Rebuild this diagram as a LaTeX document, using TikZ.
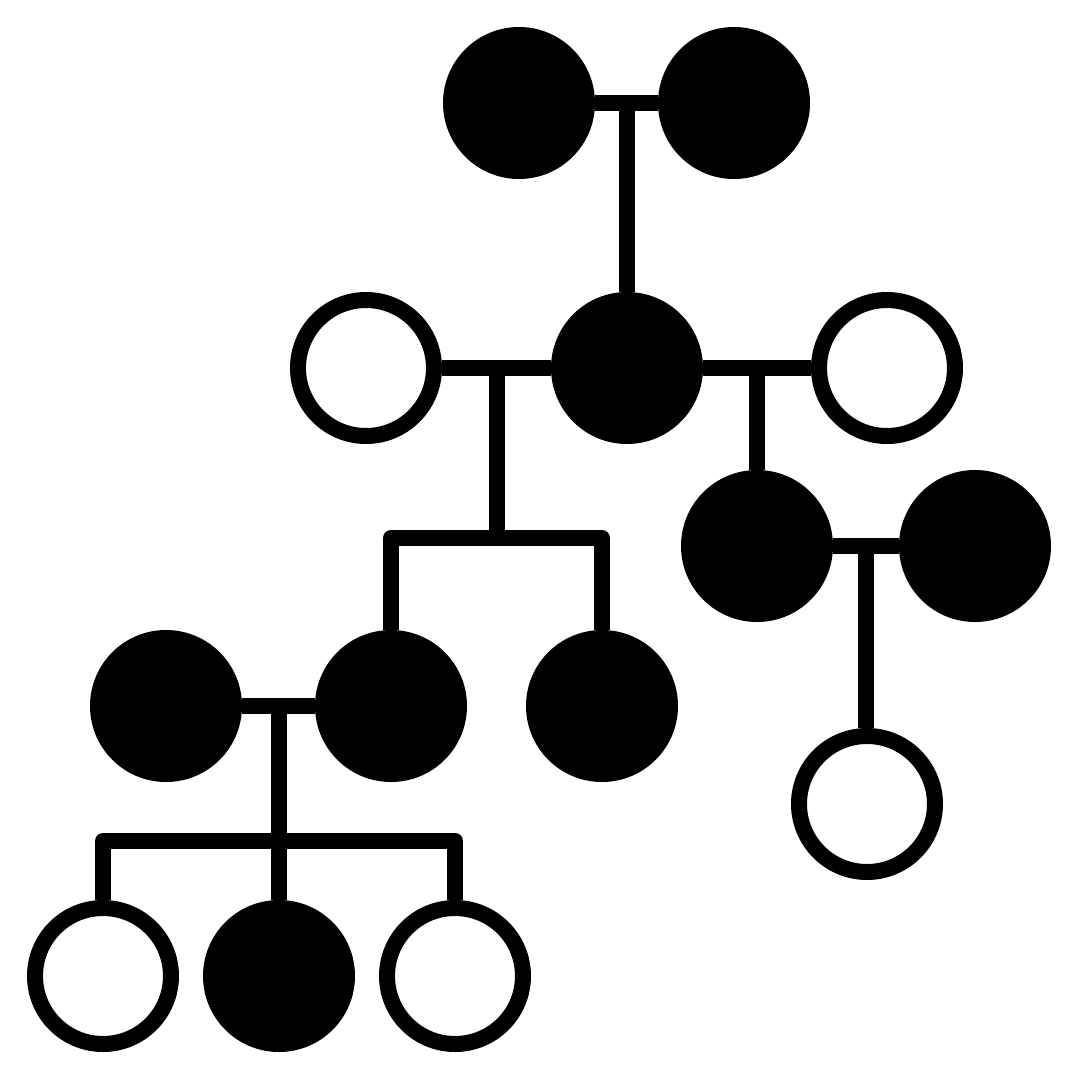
\documentclass[tikz,border=0pt]{standalone}
\usetikzlibrary{calc}
\begin{document}
\begin{tikzpicture}[x=1pt,y=-1pt,
  person/.style={circle,draw=black,line width=16pt,minimum size=136pt,inner sep=0pt},
  filled/.style={person,fill=black},
  open/.style={person,fill=white},
  link/.style={draw=black,line width=16pt,line join=round}]
\useasboundingbox[fill=white] (0,0) rectangle (1080,1080);
% generation 1
\node[filled] (gf) at (519,103) {};
\node[filled] (gm) at (734,103) {};
% generation 2
\node[open] (sp1) at (366,368) {};
\node[filled] (p) at (627,368) {};
\node[open] (sp2) at (887,368) {};
% generation 3
\node[filled] (c1) at (391,706) {};
\node[filled] (c2) at (602,706) {};
\node[filled] (c1sp) at (166,706) {};
\node[filled] (d1) at (757,546) {};
\node[filled] (d1sp) at (975,546) {};
\node[open] (e1) at (867,804) {};
% generation 4
\node[open] (g1) at (103,976) {};
\node[filled] (g2) at (279,976) {};
\node[open] (g3) at (455,976) {};
% couple links
\draw[link] (gf.east) -- (gm.west);
\draw[link] (sp1.east) -- (p.west);
\draw[link] (p.east) -- (sp2.west);
\draw[link] (d1.east) -- (d1sp.west);
\draw[link] (c1sp.east) -- (c1.west);
% midpoints
\coordinate (m1) at ($(gf)!0.5!(gm)$);
\coordinate (m2) at ($(sp1)!0.5!(p)$);
\coordinate (m3) at ($(p)!0.5!(sp2)$);
\coordinate (m4) at ($(d1)!0.5!(d1sp)$);
\coordinate (m5) at ($(c1sp)!0.5!(c1)$);
\coordinate (bar2) at ($(m2)+(0,170)$);
\coordinate (bar5) at ($(m5)+(0,135)$);
% descent links
\draw[link] (m1) -- (m1 |- p.north);
\draw[link] (m3) -- (m3 |- d1.north);
\draw[link] (m4) -- (m4 |- e1.north);
\draw[link] (m2) -- (bar2);
\draw[link] (c1.north) |- (bar2) -| (c2.north);
\draw[link] (m5) -- (m5 |- g2.north);
\draw[link] (g1.north) |- (bar5) -| (g3.north);
\end{tikzpicture}
\end{document}
